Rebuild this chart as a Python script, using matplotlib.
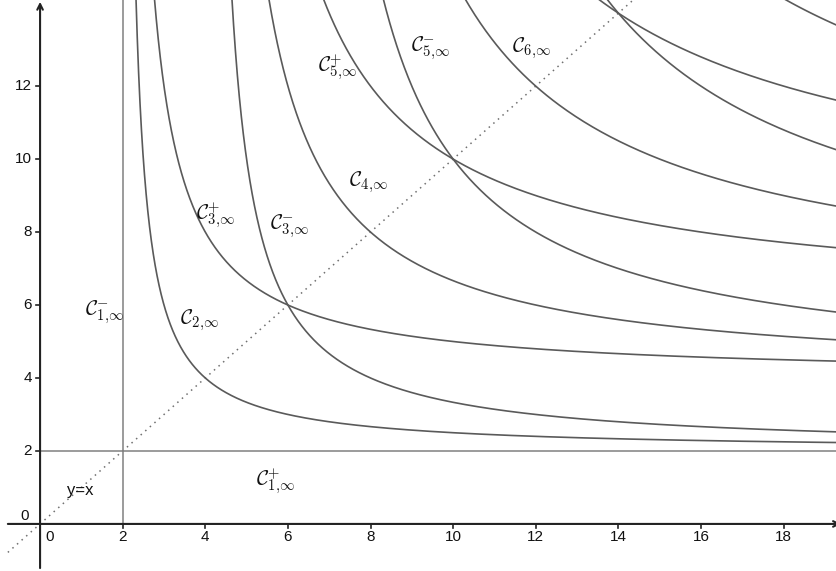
import numpy as np
import matplotlib
matplotlib.use("Agg")
import matplotlib.pyplot as plt

plt.rcParams['mathtext.fontset'] = 'cm'
plt.rcParams['font.family'] = ['Liberation Sans', 'DejaVu Sans']

# Curves a/x + b/y = 1 (a=0 or b=0 gives the straight lines)
curve_names = ["C1-", "C1+", "C2", "C3+", "C3-", "C4", "C5+", "C5-", "C6", "C7+", "C7-", "C8"]
coef_a = [2, 0, 2, 2, 4, 4, 4, 6, 6, 6, 8, 8]
coef_b = [0, 2, 2, 4, 2, 4, 6, 4, 6, 8, 6, 8]

# labels and positions (data coordinates, centres)
label_texts = [r"$\mathcal{C}_{1{,}\infty}^{-}$", r"$\mathcal{C}_{1{,}\infty}^{+}$", r"$\mathcal{C}_{2{,}\infty}$",
               r"$\mathcal{C}_{3{,}\infty}^{+}$", r"$\mathcal{C}_{3{,}\infty}^{-}$", r"$\mathcal{C}_{4{,}\infty}$",
               r"$\mathcal{C}_{5{,}\infty}^{+}$", r"$\mathcal{C}_{5{,}\infty}^{-}$", r"$\mathcal{C}_{6{,}\infty}$"]
label_x = [1.55, 5.70, 3.85, 4.25, 6.05, 7.95, 7.20, 9.45, 11.90]
label_y = [5.80, 1.15, 5.58, 8.45, 8.15, 9.38, 12.50, 13.05, 13.05]

x_ticks = [2, 4, 6, 8, 10, 12, 14, 16, 18]
y_ticks = [2, 4, 6, 8, 10, 12]

XMIN, XMAX = -0.97, 19.27
YMIN, YMAX = -1.29, 14.36

fig = plt.figure(figsize=(8.36, 5.71), dpi=100)
ax = fig.add_axes([0, 0, 1, 1])
ax.set_xlim(XMIN, XMAX)
ax.set_ylim(YMIN, YMAX)
ax.axis('off')

curve_color = '#5a5a5a'
line_color = '#808080'

# diagonal y = x
d = np.array([-0.78, YMAX])
ax.plot(d, d, linestyle=(0, (1, 3)), color='#707070', lw=1.1)

for name, a, b in zip(curve_names, coef_a, coef_b):
    if b == 0:
        ax.plot([a, a], [0, YMAX], color=line_color, lw=1.1)
    elif a == 0:
        ax.plot([0, XMAX], [b, b], color=line_color, lw=1.1)
    else:
        xs = a + np.geomspace(1e-3, XMAX + 1 - a, 2000)
        ys = b * xs / (xs - a)
        m = ys < YMAX + 2
        ax.plot(xs[m], ys[m], color=curve_color, lw=1.2)

for t, lx, ly in zip(label_texts, label_x, label_y):
    ax.text(lx, ly, t, fontsize=15, ha='center', va='center', color='#111111')

ax.text(0.97, 0.93, "y=x", fontsize=12, ha='center', va='center', color='#111111')

# axes
ax.annotate('', xy=(XMAX + 0.12, 0), xytext=(-0.78, 0), annotation_clip=False,
            arrowprops=dict(arrowstyle='->', color='#222222', lw=1.5, shrinkA=0, shrinkB=0,
                            mutation_scale=10))
ax.annotate('', xy=(0, YMAX - 0.05), xytext=(0, -1.21), annotation_clip=False,
            arrowprops=dict(arrowstyle='->', color='#222222', lw=1.5, shrinkA=0, shrinkB=0,
                            mutation_scale=10))

# ticks
px_x = (XMAX - XMIN) / 836.0
px_y = (YMAX - YMIN) / 571.0
for xt in x_ticks:
    ax.plot([xt, xt], [0, -4 * px_y], color='#222222', lw=1.2)
    ax.text(xt, -0.36, str(xt), fontsize=11, ha='center', va='center', color='#111111')
for yt in y_ticks:
    ax.plot([0, -4 * px_x], [yt, yt], color='#222222', lw=1.2)
    ax.text(-0.2, yt, str(yt), fontsize=11, ha='right', va='center', color='#111111')
ax.text(-0.37, 0.22, "0", fontsize=11, ha='center', va='center', color='#111111')
ax.text(0.24, -0.36, "0", fontsize=11, ha='center', va='center', color='#111111')

fig.savefig("out.png", dpi=100)
